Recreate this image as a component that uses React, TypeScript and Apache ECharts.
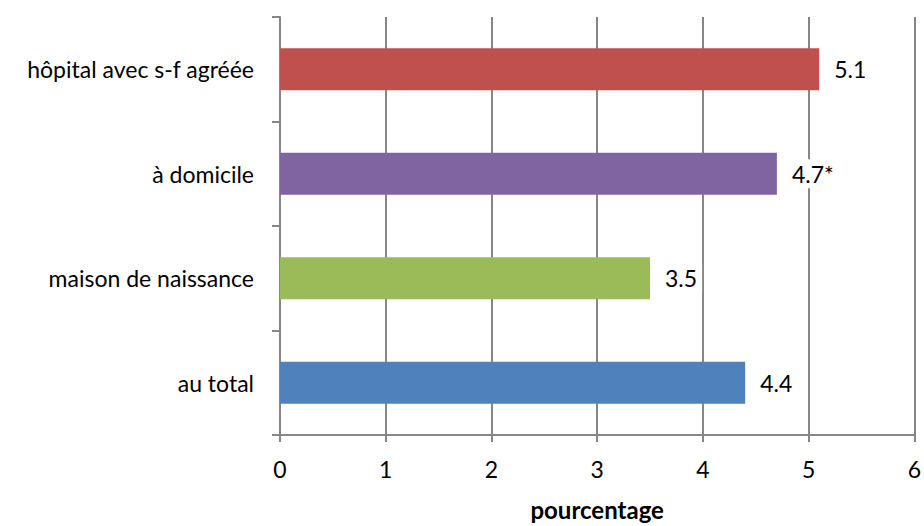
import React, { useEffect, useRef } from "react";
import * as echarts from "echarts";

const categories = ["au total", "maison de naissance", "à domicile", "hôpital avec s-f agréée"];
const values = [4.4, 3.5, 4.7, 5.1];
const valueLabels = ["4.4", "3.5", "4.7*", "5.1"];
const colors = ["#4F81BD", "#9BBB59", "#8064A2", "#C0504D"];
const xTicks = [0, 1, 2, 3, 4, 5, 6];
const xAxisTitle = "pourcentage";

const FONT = "Lato, 'Open Sans', sans-serif";

export default function App() {
  const ref = useRef<HTMLDivElement>(null);
  useEffect(() => {
    if (!ref.current) return;
    document.body.style.margin = "0";
    document.body.style.overflow = "hidden";
    const chart = echarts.init(ref.current, undefined, { renderer: "svg" });
    chart.setOption({
      animation: false,
      grid: { left: 280, right: 7, top: 17, bottom: 85, containLabel: false },
      xAxis: {
        type: "value",
        min: xTicks[0],
        max: xTicks[xTicks.length - 1],
        interval: 1,
        name: xAxisTitle,
        nameLocation: "middle",
        nameGap: 62,
        nameTextStyle: { fontFamily: FONT, fontSize: 24, fontWeight: "bold", color: "#000" },
        axisLine: { show: true, lineStyle: { color: "#868686", width: 2 } },
        axisTick: { show: true, length: 7, lineStyle: { color: "#868686", width: 2 } },
        axisLabel: { fontFamily: FONT, fontSize: 23, color: "#000", margin: 22 },
        splitLine: { show: true, lineStyle: { color: "#868686", width: 2 } },
      },
      yAxis: {
        type: "category",
        data: categories,
        axisLine: { show: true, lineStyle: { color: "#868686", width: 2 } },
        axisTick: { show: true, length: 8, alignWithLabel: false, lineStyle: { color: "#868686", width: 2 } },
        axisLabel: { fontFamily: FONT, fontSize: 23, color: "#000", margin: 26 },
        splitLine: { show: false },
      },
      series: [
        {
          type: "bar",
          barWidth: "40%",
          data: values.map((v, i) => ({ value: v, itemStyle: { color: colors[i] } })),
          label: {
            show: true,
            position: "right",
            distance: 10,
            formatter: (p: any) => valueLabels[p.dataIndex],
            fontFamily: FONT,
            fontSize: 23,
            color: "#000",
            backgroundColor: "#fff",
            padding: [3, 5],
          },
        },
      ],
    });
    return () => chart.dispose();
  }, []);
  return <div ref={ref} style={{ width: 924, height: 526, position: "absolute", left: 0, top: 0, overflow: "hidden" }} />;
}
